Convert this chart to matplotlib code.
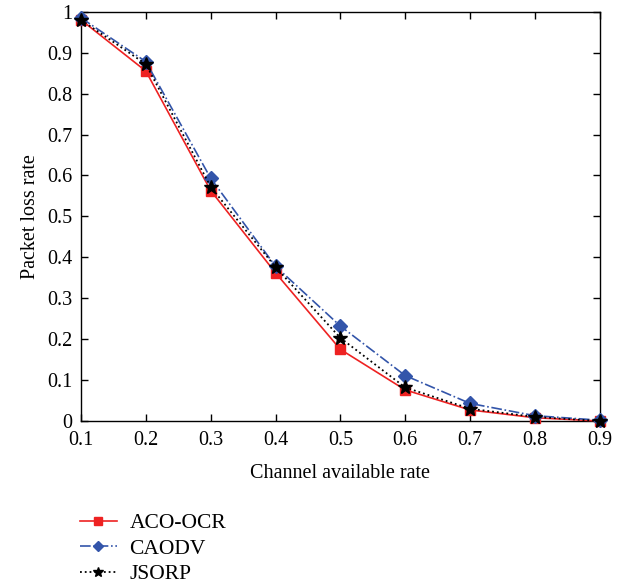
import matplotlib
matplotlib.use("Agg")
import matplotlib.pyplot as plt

x = [0.1, 0.2, 0.3, 0.4, 0.5, 0.6, 0.7, 0.8, 0.9]
aco_ocr = [0.980, 0.855, 0.563, 0.362, 0.175, 0.076, 0.027, 0.008, 0.000]
caodv = [0.985, 0.878, 0.593, 0.378, 0.232, 0.111, 0.043, 0.013, 0.002]
jsorp = [0.980, 0.872, 0.572, 0.376, 0.203, 0.082, 0.030, 0.010, 0.000]
labels = ["ACO-OCR", "CAODV", "JSORP"]
xtick_labels = ['0.1', '0.2', '0.3', '0.4', '0.5', '0.6', '0.7', '0.8', '0.9']
ytick_labels = ['0', '0.1', '0.2', '0.3', '0.4', '0.5', '0.6', '0.7', '0.8', '0.9', '1']

plt.rcParams['font.family'] = ['Liberation Serif', 'DejaVu Serif']

fig = plt.figure(figsize=(6.38, 5.88), dpi=100)
ax = fig.add_axes([0.1270, 0.284, 0.813, 0.696])

l1, = ax.plot(x, aco_ocr, '-', color='#ee2222', lw=1.2, marker='s', ms=7,
              mfc='#ee2222', mec='#ee2222', label=labels[0], zorder=3)
l2, = ax.plot(x, caodv, '-.', color='#3355aa', lw=1.2, marker='D', ms=7,
              mfc='#3355aa', mec='#3355aa', label=labels[1], zorder=4)
l3, = ax.plot(x, jsorp, ':', color='black', lw=1.3, marker='*', ms=10,
              mfc='black', mec='black', label=labels[2], zorder=5)

ax.set_xlim(0.1, 0.9)
ax.set_ylim(0, 1)
ax.set_xticks([float(v) for v in xtick_labels])
ax.set_xticklabels(xtick_labels)
ax.set_yticks([float(v) for v in ytick_labels])
ax.set_yticklabels(ytick_labels)
ax.tick_params(direction='in', top=True, right=True, length=5, labelsize=14.5, width=1)
ax.tick_params(axis='x', pad=7)
ax.tick_params(axis='y', pad=6)
for s in ax.spines.values():
    s.set_linewidth(1.0)
ax.set_xlabel('Channel available rate', fontsize=14.5, labelpad=10)
ax.set_ylabel('Packet loss rate', fontsize=14.5, labelpad=5)
for c in [l1, l2, l3]:
    c.set_clip_on(False)

fig.legend(handles=[l1, l2, l3], labels=labels, loc='upper left',
           bbox_to_anchor=(0.112, 0.142), frameon=False, fontsize=15.5,
           handlelength=1.7, labelspacing=0.25, borderaxespad=0,
           handletextpad=0.6, markerscale=0.75)

fig.savefig('out.png', dpi=100)
